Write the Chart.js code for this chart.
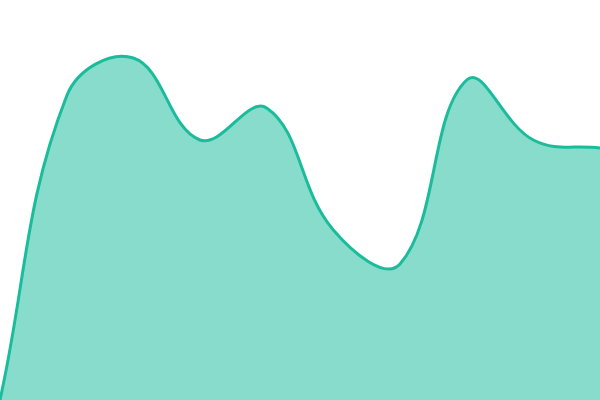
<!DOCTYPE html>
<html>
<head>
<meta charset="utf-8">
<script src="https://cdn.jsdelivr.net/npm/chart.js@4"></script>
<style>
  html, body { margin: 0; padding: 0; background: #fff; }
  #wrap { width: 600px; height: 400px; }
</style>
</head>
<body>
<div id="wrap"><canvas id="chart" width="600" height="400"></canvas></div>
<script>
const labels = ["1", "2", "3", "4", "5", "6", "7", "8", "9", "10"];
const values = [0, 76, 85.5, 65, 73, 42.5, 34, 80, 65, 63];

const chartEl = document.getElementById("chart");

new Chart(chartEl, {
  type: "line",
  data: {
    labels,
    datasets: [
      {
        data: values,
        borderColor: "#1abc9c",
        backgroundColor: "rgba(26, 188, 156, 0.52)",
        borderWidth: 3,
        fill: "origin",
        tension: 0.4,
        pointRadius: 0,
      },
    ],
  },
  options: {
    responsive: false,
    animation: false,
    layout: { padding: 0 },
    plugins: { legend: { display: false }, tooltip: { enabled: false } },
    scales: {
      x: { display: false },
      y: { display: false, min: 0, max: 100 },
    },
  },
});
</script>
</body>
</html>
